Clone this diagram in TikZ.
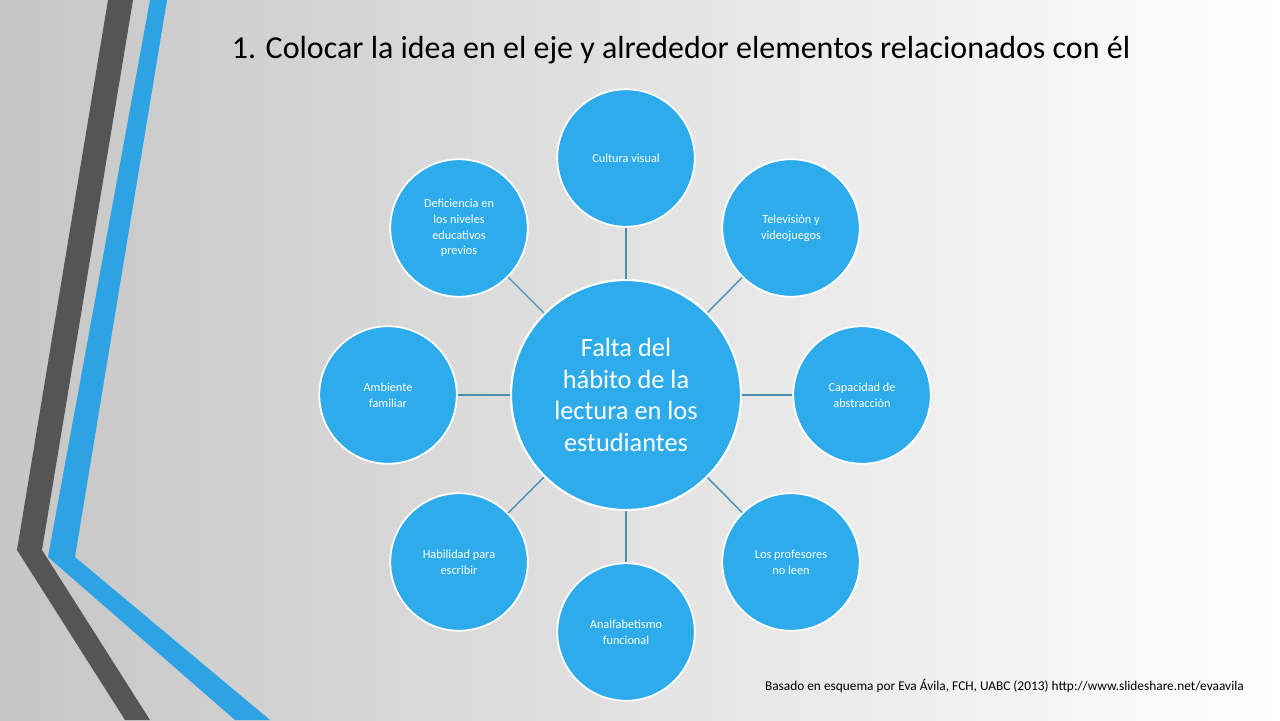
\documentclass[tikz,border=0pt]{standalone}
\usepackage{fontspec}
\setmainfont{Carlito}
\definecolor{bubble}{HTML}{2EABEB}
\definecolor{linkc}{HTML}{4A8FB0}
\definecolor{stripeblue}{HTML}{2EA3E3}
\definecolor{stripedark}{HTML}{555555}
\tikzset{
  hub/.style={circle,fill=bubble,draw=white,line width=1.2pt,minimum size=4.6cm,
    align=center,text=white,font=\fontsize{15}{18}\selectfont},
  leaf/.style={circle,fill=bubble,draw=white,line width=1pt,minimum size=2.75cm,
    align=center,text=white,font=\fontsize{7}{9}\selectfont},
  link/.style={draw=linkc,line width=0.8pt}
}
\begin{document}
\begin{tikzpicture}[x=0.02cm,y=-0.02cm]
\shade[left color=gray!45,right color=white] (0,0) rectangle (1280,720);
\useasboundingbox (0,0) rectangle (1280,720);
% stripes
\fill[stripedark] (108,0) -- (133,0) -- (42,550) -- (150,720) -- (125,720) -- (17,550) -- cycle;
\fill[stripeblue] (150,0) -- (167,0) -- (75,557) -- (270,720) -- (235,720) -- (48,557) -- cycle;
\node[font=\fontsize{18.2}{22}\selectfont] (title) at (681,50) {1. Colocar la idea en el eje y alrededor elementos relacionados con él};
\node[hub] (c) at (626,395) {Falta del\\hábito de la\\lectura en los\\estudiantes};
\node[leaf] (n1) at (626,158) {Cultura visual};
\node[leaf] (n2) at (791,228) {Televisión y\\videojuegos};
\node[leaf] (n3) at (862,395) {Capacidad de\\abstracción};
\node[leaf] (n4) at (791,562) {Los profesores\\no leen};
\node[leaf] (n5) at (626,632) {Analfabetismo\\funcional};
\node[leaf] (n6) at (459,562) {Habilidad para\\escribir};
\node[leaf] (n7) at (388,395) {Ambiente\\familiar};
\node[leaf] (n8) at (459,228) {Deficiencia en\\los niveles\\educativos\\previos};
\foreach \n in {n1,n2,n3,n4,n5,n6,n7,n8}
  \draw[link] (c) -- (\n);
\node[anchor=east,font=\fontsize{7.6}{9}\selectfont] (src) at (1250,686) {Basado en esquema por Eva Ávila, FCH, UABC (2013) http://www.slideshare.net/evaavila};
\end{tikzpicture}
\end{document}
